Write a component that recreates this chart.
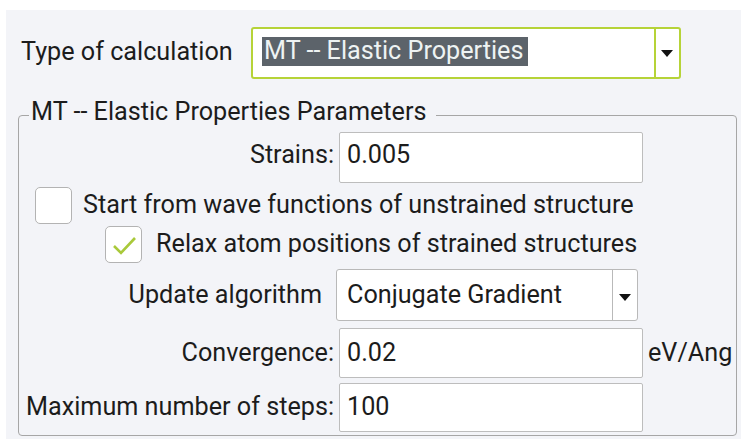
import React from "react";

// Content of the form (the reference is a settings panel, not a data chart)
const calcTypeLabel = "Type of calculation";
const calcTypeValue = "MT -- Elastic Properties";
const groupTitle = "MT -- Elastic Properties Parameters";
const fieldLabels = ["Strains:", "Convergence:", "Maximum number of steps:"];
const fieldValues = ["0.005", "0.02", "100"];
const fieldUnits = ["", "eV/Ang", ""];
const checkLabels = [
  "Start from wave functions of unstrained structure",
  "Relax atom positions of strained structures",
];
const checkStates = [false, true];
const algoLabel = "Update algorithm";
const algoValue = "Conjugate Gradient";

const FONT = "Roboto, 'Noto Sans', sans-serif";
const FS = 25.2;
const LH = 30;
const BASE = 23.6; // baseline offset inside a 30px line box
const TXT = "#1c1c1c";
const GREEN = "#b6d338";

type TP = { x: number; baseline: number; text: string; right?: boolean; color?: string };
function Text({ x, baseline, text, right, color }: TP) {
  const style: React.CSSProperties = {
    position: "absolute",
    top: baseline - BASE,
    fontFamily: FONT,
    fontSize: FS,
    lineHeight: LH + "px",
    whiteSpace: "nowrap",
    color: color || TXT,
  };
  if (right) style.right = 741 - x;
  else style.left = x;
  return <div style={style}>{text}</div>;
}

function Box(p: { l: number; t: number; r: number; b: number; style?: React.CSSProperties }) {
  return (
    <div
      style={{
        position: "absolute",
        left: p.l,
        top: p.t,
        width: p.r - p.l,
        height: p.b - p.t,
        boxSizing: "border-box",
        ...p.style,
      }}
    />
  );
}

function Arrow({ cx, cy }: { cx: number; cy: number }) {
  return (
    <div
      style={{
        position: "absolute",
        left: cx - 6,
        top: cy - 3,
        width: 0,
        height: 0,
        borderLeft: "6px solid transparent",
        borderRight: "6px solid transparent",
        borderTop: "7px solid #111",
      }}
    />
  );
}

function Check({ l, t, checked }: { l: number; t: number; checked: boolean }) {
  return (
    <div
      style={{
        position: "absolute",
        left: l,
        top: t,
        width: 37,
        height: 37,
        boxSizing: "border-box",
        border: "1.5px solid #b3b3b3",
        borderRadius: 5,
        background: "#fff",
      }}
    >
      {checked ? (
        <svg width="34" height="34" style={{ position: "absolute", left: 0, top: 0 }}>
          <polyline points="8,19 15,26 29,11" fill="none" stroke="#a9c93a" strokeWidth="2.6" />
        </svg>
      ) : null}
    </div>
  );
}

export default function App() {
  const inputBoxes = [
    { t: 132, b: 183 },
    { t: 328, b: 378 },
    { t: 383, b: 432 },
  ];
  const baselines = [164, 362, 416];
  return (
    <div style={{ position: "absolute", left: 0, top: 0, width: 741, height: 439, background: "#fff", overflow: "hidden" }}>
      <Box l={6} t={10} r={741} b={439} style={{ background: "#f3f4f8" }} />

      <Text x={21} baseline={61} text={calcTypeLabel} />
      <Box l={251} t={27} r={681} b={79} style={{ border: `2px solid ${GREEN}`, borderRadius: 3, background: "#fff" }} />
      <Box l={654} t={28} r={656} b={78} style={{ background: GREEN }} />
      <Arrow cx={667} cy={53} />
      <Box l={262} t={37} r={528} b={66} style={{ background: "#5c636a" }} />
      <Text x={264} baseline={60} text={calcTypeValue} color="#eef3f3" />

      <Box l={18} t={115} r={737} b={436} style={{ border: "1.5px solid #a6a6a6", borderRadius: 4 }} />
      <Box l={29} t={100} r={436} b={125} style={{ background: "#f3f4f8" }} />
      <Text x={31} baseline={121} text={groupTitle} />

      {inputBoxes.map((bx, i) => (
        <React.Fragment key={i}>
          <Text x={334} baseline={baselines[i]} text={fieldLabels[i]} right />
          <Box l={339} t={bx.t} r={643} b={bx.b} style={{ border: "1px solid #bdbdbd", borderRadius: 2, background: "#fff" }} />
          <Text x={347} baseline={baselines[i]} text={fieldValues[i]} />
          {fieldUnits[i] ? <Text x={648} baseline={baselines[i]} text={fieldUnits[i]} /> : null}
        </React.Fragment>
      ))}

      <Check l={35} t={187} checked={checkStates[0]} />
      <Text x={83} baseline={214} text={checkLabels[0]} />
      <Check l={105} t={226} checked={checkStates[1]} />
      <Text x={156} baseline={253} text={checkLabels[1]} />

      <Text x={322} baseline={304} text={algoLabel} right />
      <Box l={336} t={269} r={638} b={321} style={{ border: "1px solid #b9b9b9", borderRadius: 3, background: "#fff" }} />
      <Box l={612} t={270} r={613} b={320} style={{ background: "#b9b9b9" }} />
      <Arrow cx={625} cy={297} />
      <Text x={347} baseline={304} text={algoValue} />
    </div>
  );
}
